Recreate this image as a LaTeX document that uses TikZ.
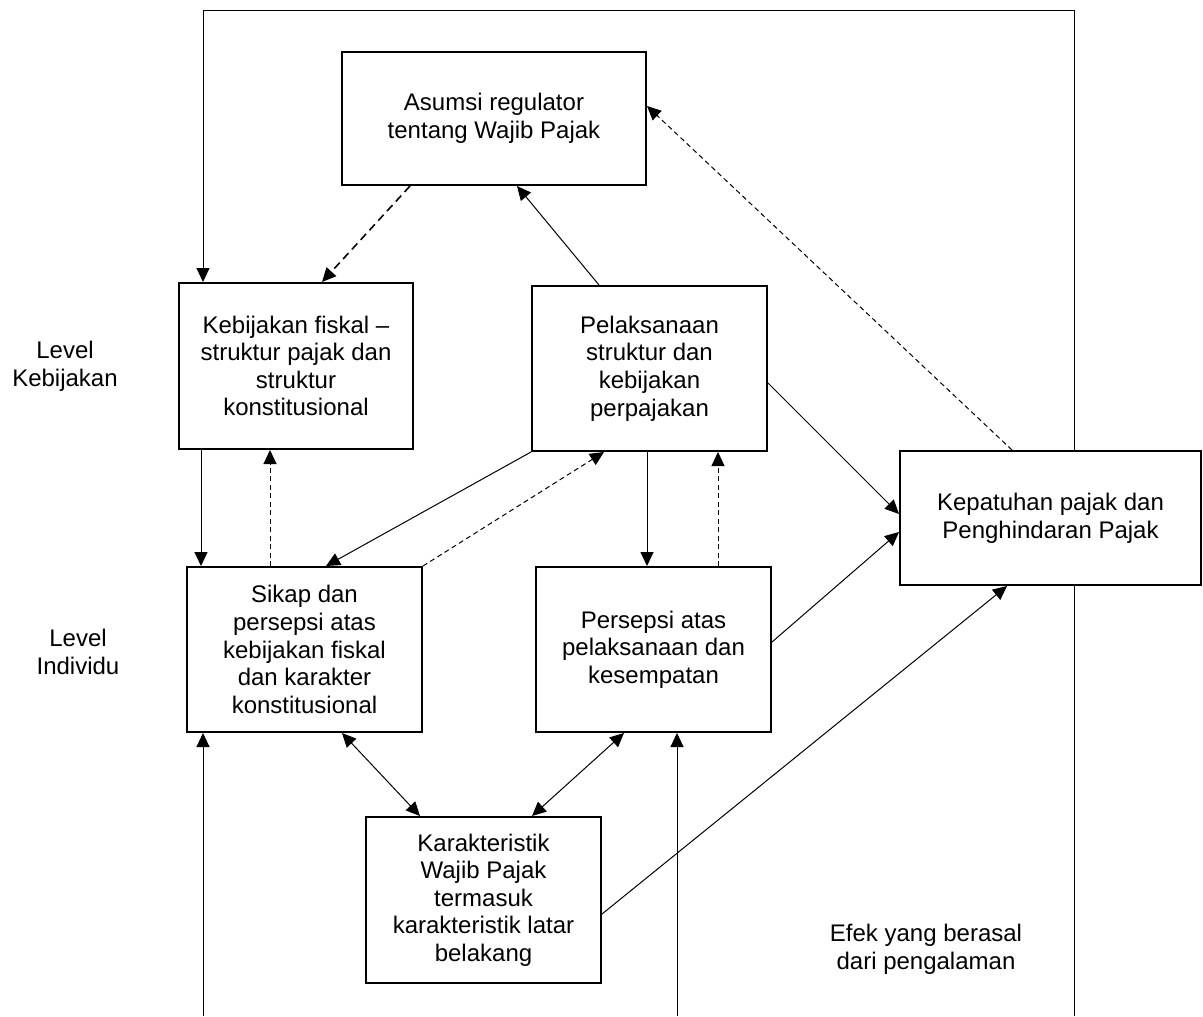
\documentclass[tikz,border=0pt]{standalone}
\usepackage{fontspec}
\setmainfont{Liberation Sans}
\usetikzlibrary{arrows.meta,calc}
\begin{document}
\begin{tikzpicture}[x=0.5pt,y=-0.5pt,
  box/.style={draw, line width=1pt, fill=white, align=center, inner sep=2pt,
              font=\fontsize{12}{13.8}\selectfont},
  lbl/.style={align=center, inner sep=0pt, font=\fontsize{12}{13.8}\selectfont},
  tip/.tip={Triangle[length=7pt,width=6.5pt]},
  plain/.style={line width=0.5pt},
  link/.style={plain, -tip},
  dlink/.style={link, dash pattern=on 2.5pt off 1.75pt},
  dlinkbold/.style={link, line width=0.8pt, dash pattern=on 4pt off 2.5pt},
  both/.style={plain, tip-tip}]
\useasboundingbox (0,0) rectangle (1203,1016);

% boxes
\node[box, minimum width=152pt, minimum height=66.5pt] (asm) at (494,118.5)
  {Asumsi regulator\\tentang Wajib Pajak};
\node[box, minimum width=117pt, minimum height=83pt] (keb) at (296,366)
  {Kebijakan fiskal –\\struktur pajak dan\\struktur\\konstitusional};
\node[box, minimum width=117.5pt, minimum height=82.5pt] (pel) at (649.5,368.5)
  {Pelaksanaan\\struktur dan\\kebijakan\\perpajakan};
\node[box, minimum width=117.5pt, minimum height=82.5pt] (sik) at (304.5,649.5)
  {Sikap dan\\persepsi atas\\kebijakan fiskal\\dan karakter\\konstitusional};
\node[box, minimum width=117.5pt, minimum height=82.5pt] (per) at (653.5,649.5)
  {Persepsi atas\\pelaksanaan dan\\kesempatan};
\node[box, minimum width=117.5pt, minimum height=83pt] (kar) at (483.5,900)
  {Karakteristik\\Wajib Pajak\\termasuk\\karakteristik latar\\belakang};
\node[box, minimum width=150.5pt, minimum height=67pt] (kep) at (1050.5,518)
  {Kepatuhan pajak dan\\Penghindaran Pajak};

% side labels
\node[lbl] (lvk) at (65,366) {Level\\Kebijakan};
\node[lbl] (lvi) at (78,652) {Level\\Individu};
\node[lbl] (efk) at (926,949) {Efek yang berasal\\dari pengalaman};

% corners of the feedback loops
\coordinate (tl) at (203,11);
\coordinate (tr) at (1074,11);
\coordinate (bl) at (203,1016);
\coordinate (bm) at (677,1016);
\coordinate (br) at (1074,1016);

% feedback loop over the top
\draw[link] (kep.north -| tr) -- (tr) -- (tl) -- (keb.north -| tl);
% feedback loop along the bottom
\draw[plain] (kep.south -| br) -- (br);
\draw[link] (bl) -- (sik.south -| bl);
\draw[link] (bm) -- (per.south -| bm);

% policy level
\draw[dlinkbold] ($(asm.south west)+(69,0)$) -- ($(keb.north west)+(144,0)$);
\draw[link] ($(pel.north west)+(68,0)$) -- ($(asm.south west)+(176,0)$);
\draw[dlink] ($(kep.north west)+(113,0)$) -- ($(asm.north east)+(0,55)$);

% policy to individual
\draw[link] ($(keb.south west)+(23,0)$) -- ($(sik.north west)+(15,0)$);
\draw[dlink] ($(sik.north west)+(84,0)$) -- ($(keb.south west)+(92,0)$);
\draw[link] (pel.south west) -- ($(sik.north west)+(140,0)$);
\draw[dlink] (sik.north east) -- ($(pel.south west)+(73,0)$);
\draw[link] ($(pel.south west)+(116,0)$) -- ($(per.north west)+(112,0)$);
\draw[dlink] ($(per.north west)+(183,0)$) -- ($(pel.south west)+(187,0)$);

% into compliance
\draw[link] ($(pel.south east)+(0,-69)$) -- ($(kep.north west)+(0,64)$);
\draw[link] ($(per.north east)+(0,76)$) -- ($(kep.north west)+(0,82)$);
\draw[link] ($(kar.north east)+(0,98)$) -- ($(kep.south west)+(108,0)$);

% taxpayer characteristics
\draw[both] ($(sik.south west)+(156,0)$) -- ($(kar.north west)+(55,0)$);
\draw[both] ($(per.south west)+(89,0)$) -- ($(kar.north west)+(167,0)$);
\end{tikzpicture}
\end{document}
